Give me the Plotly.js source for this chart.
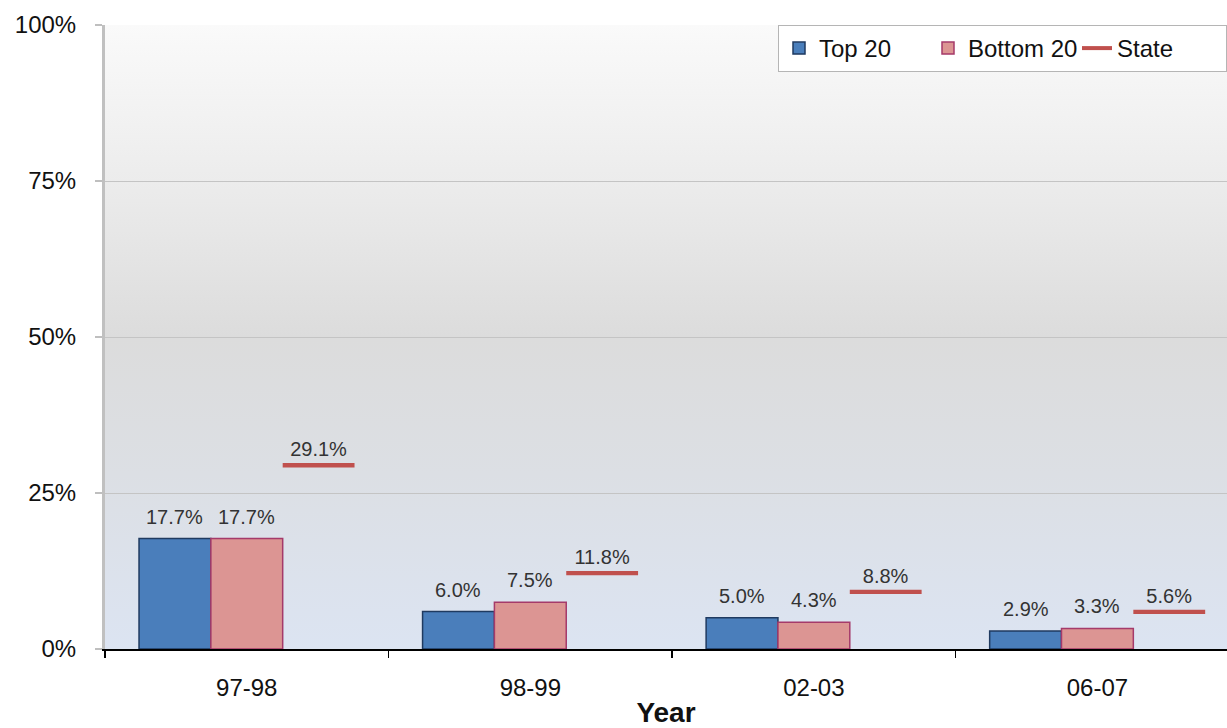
<!DOCTYPE html>
<html>
<head>
<meta charset="utf-8">
<script src="https://cdn.plot.ly/plotly-3.0.1.min.js"></script>
<style>
  html, body { margin: 0; padding: 0; background: #ffffff; }
  #chart { width: 1227px; height: 728px; }
</style>
</head>
<body>
<div id="chart"></div>
<script>
// ---- data ----
var categories = ['97-98', '98-99', '02-03', '06-07'];
var top20 = [17.7, 6.0, 5.0, 2.9];
var bottom20 = [17.7, 7.5, 4.3, 3.3];
var state = [29.1, 11.8, 8.8, 5.6];
var yTicks = [0, 25, 50, 75, 100];
var seriesNames = ['Top 20', 'Bottom 20', 'State'];

// ---- styling ----
var FONT = 'Liberation Sans, Arial, sans-serif';
var W = 1227, H = 728;
var M = { l: 105, r: 0, t: 25, b: 79 };
var X_RANGE = [-0.5, 3.457];
var BARGAP = 0.24;
var LINE_THICK = 0.7; // thickness of the State marker line, in axis units
function pct(v) { return v.toFixed(1) + '%'; }

var pxPerUnit = (W - M.l - M.r) / (X_RANGE[1] - X_RANGE[0]);
var barPx = (1 - BARGAP) / 3 * pxPerUnit;

var labelFont = { family: FONT, size: 20, color: '#333333' };

var traces = [
  {
    type: 'bar', name: seriesNames[0], x: categories, y: top20,
    marker: { color: '#4a7ebb', line: { color: '#1f3a60', width: 1.5 } },
    hoverinfo: 'skip'
  },
  {
    type: 'bar', name: seriesNames[1], x: categories, y: bottom20,
    marker: { color: '#dc9593', line: { color: '#a53a6a', width: 1.5 } },
    hoverinfo: 'skip'
  },
  {
    type: 'bar', name: seriesNames[2], x: categories,
    base: state, y: state.map(function () { return LINE_THICK; }),
    text: state.map(pct), textposition: 'outside', textfont: labelFont,
    constraintext: 'none', cliponaxis: false,
    marker: { color: '#c0504d', line: { width: 0 } },
    showlegend: false, hoverinfo: 'skip'
  },
  {
    type: 'scatter', mode: 'lines', name: seriesNames[2],
    x: [null], y: [null],
    line: { color: '#c0504d', width: 4 },
    hoverinfo: 'skip'
  }
];

// value labels above the two bar series
var annotations = [];
[[top20, -barPx], [bottom20, 0]].forEach(function (pair) {
  pair[0].forEach(function (v, i) {
    annotations.push({
      x: categories[i], y: v, xref: 'x', yref: 'y',
      text: pct(v), showarrow: false,
      xanchor: 'center', yanchor: 'bottom', xshift: pair[1], yshift: 9,
      font: labelFont
    });
  });
});

var gradSvg = '<svg xmlns="http://www.w3.org/2000/svg" width="100" height="100" preserveAspectRatio="none">' +
  '<defs><linearGradient id="g" x1="0" y1="0" x2="0" y2="1">' +
  '<stop offset="0" stop-color="#fafafa"/>' +
  '<stop offset="0.25" stop-color="#ececec"/>' +
  '<stop offset="0.5" stop-color="#dcdcdc"/>' +
  '<stop offset="0.72" stop-color="#dcdfe4"/>' +
  '<stop offset="1" stop-color="#dce4f2"/>' +
  '</linearGradient></defs><rect width="100" height="100" fill="url(#g)"/></svg>';

var layout = {
  width: W, height: H,
  margin: M,
  paper_bgcolor: '#ffffff',
  plot_bgcolor: 'rgba(0,0,0,0)',
  font: { family: FONT, color: '#111111' },
  barmode: 'group', bargap: BARGAP, bargroupgap: 0,
  showlegend: true,
  legend: {
    orientation: 'h', x: 1, xanchor: 'right', y: 1, yanchor: 'top',
    bgcolor: '#ffffff', bordercolor: '#b5b5b5', borderwidth: 1,
    font: { family: FONT, size: 24, color: '#111111' },
    entrywidth: 104, entrywidthmode: 'pixels',
    traceorder: 'normal'
  },
  annotations: annotations,
  xaxis: {
    type: 'category', range: X_RANGE,
    tickson: 'boundaries', ticks: 'outside', ticklen: 7, tickwidth: 1.5, tickcolor: '#000000',
    showline: true, linecolor: '#000000', linewidth: 1.5,
    showgrid: false, zeroline: false,
    tickfont: { family: FONT, size: 24, color: '#111111' },
    ticklabelstandoff: 17,
    title: { text: 'Year', font: { family: FONT, size: 28, weight: 'bold', color: '#111111' }, standoff: 11 },
    fixedrange: true
  },
  yaxis: {
    range: [0, 100], tickmode: 'array', tickvals: yTicks,
    ticktext: yTicks.map(function (v) { return v + '%'; }),
    ticks: 'outside', ticklen: 7, tickcolor: '#bfbfbf', tickwidth: 1.5,
    showline: true, linecolor: '#c0c0c0', linewidth: 3,
    showgrid: true, gridcolor: '#c4c4c4', gridwidth: 1,
    zeroline: false,
    tickfont: { family: FONT, size: 24, color: '#111111' },
    ticklabelstandoff: 14,
    fixedrange: true
  },
  images: [{
    source: 'data:image/svg+xml;charset=utf-8,' + encodeURIComponent(gradSvg),
    xref: 'paper', yref: 'paper', x: 0, y: 1, sizex: 1, sizey: 1,
    xanchor: 'left', yanchor: 'top', sizing: 'stretch', layer: 'below'
  }]
};

Plotly.newPlot('chart', traces, layout, { displayModeBar: false, staticPlot: true });
</script>
</body>
</html>
